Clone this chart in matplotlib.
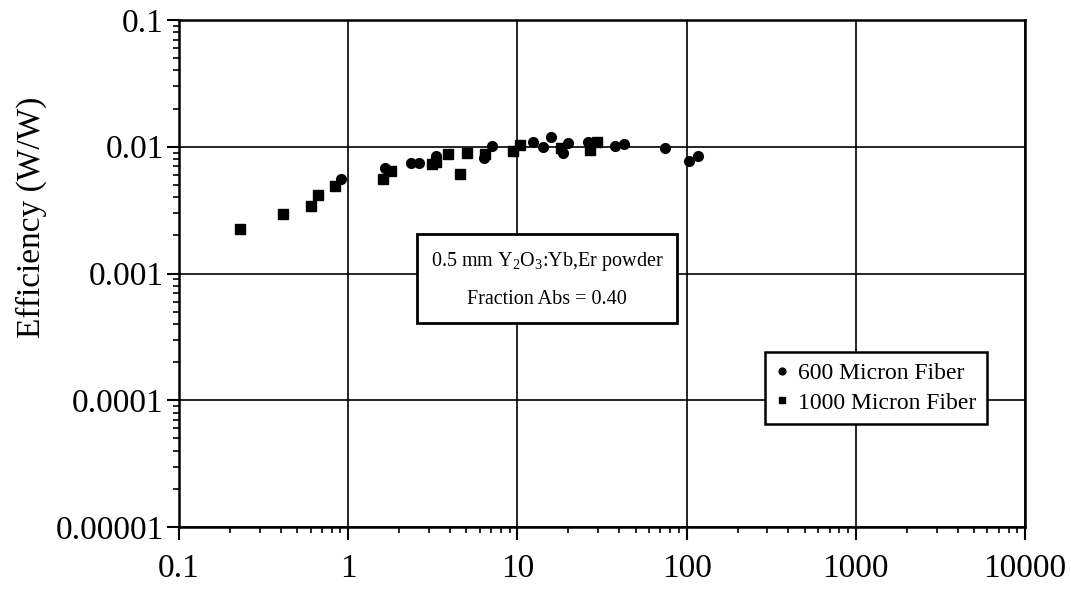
import matplotlib
matplotlib.use('Agg')
import matplotlib.pyplot as plt
from matplotlib.ticker import LogLocator, FixedLocator, FixedFormatter, NullFormatter

plt.rcParams['font.family'] = ['Liberation Serif', 'DejaVu Serif']
plt.rcParams['mathtext.fontset'] = 'custom'
plt.rcParams['mathtext.rm'] = 'Liberation Serif'

# data
x_600 = [0.91, 1.66, 2.36, 2.63, 3.32, 6.38, 7.1, 12.4, 14.1, 15.7, 18.5, 20.0,
         26.0, 38.0, 42.4, 75.0, 104.0, 116.0]
y_600 = [0.00557, 0.0068, 0.00745, 0.00745, 0.00845, 0.00815, 0.0101, 0.0109, 0.0100,
         0.0119, 0.0089, 0.0107, 0.0109, 0.0101, 0.0105, 0.0098, 0.0077, 0.0085]

x_1000 = [0.23, 0.41, 0.60, 0.66, 0.84, 1.61, 1.80, 3.14, 3.3, 3.9, 4.6, 5.06,
          6.47, 9.46, 10.3, 18.2, 27.0, 29.7]
y_1000 = [0.00225, 0.00294, 0.0034, 0.0042, 0.0049, 0.00557, 0.00644, 0.00731, 0.0076,
          0.00877, 0.0061, 0.0089, 0.00877, 0.0092, 0.0103, 0.0098, 0.0094, 0.0109]

x_ticks = [0.1, 1, 10, 100, 1000, 10000]
x_labels = ['0.1', '1', '10', '100', '1000', '10000']
y_ticks = [0.00001, 0.0001, 0.001, 0.01, 0.1]
y_labels = ['0.00001', '0.0001', '0.001', '0.01', '0.1']

fig = plt.figure(figsize=(10.71, 5.93), dpi=100)
ax = fig.add_axes([179/1071, 1 - 527/593, (1025-179)/1071, (527-20)/593])

ax.plot(x_600, y_600, 'o', color='black', ms=7, label='600 Micron Fiber')
ax.plot(x_1000, y_1000, 's', color='black', ms=6.5, label='1000 Micron Fiber')

ax.set_xscale('log')
ax.set_yscale('log')
ax.set_xlim(0.1, 10000)
ax.set_ylim(0.00001, 0.1)

ax.xaxis.set_major_locator(FixedLocator(x_ticks))
ax.xaxis.set_major_formatter(FixedFormatter(x_labels))
ax.yaxis.set_major_locator(FixedLocator(y_ticks))
ax.yaxis.set_major_formatter(FixedFormatter(y_labels))
ax.xaxis.set_minor_locator(LogLocator(base=10, subs=range(2, 10), numticks=20))
ax.yaxis.set_minor_locator(LogLocator(base=10, subs=range(2, 10), numticks=20))
ax.xaxis.set_minor_formatter(NullFormatter())
ax.yaxis.set_minor_formatter(NullFormatter())

ax.tick_params(which='major', direction='out', length=9, width=1.5, labelsize=24, color='black')
ax.tick_params(which='minor', direction='out', length=4.5, width=1.2, color='black')
ax.tick_params(axis='x', which='major', pad=10)
ax.tick_params(axis='y', which='major', pad=2)

ax.grid(which='major', color='black', linestyle='-', linewidth=1.2)
for s in ax.spines.values():
    s.set_linewidth(1.8)

ax.set_ylabel('Efficiency (W/W)', fontsize=24)
ax.yaxis.set_label_coords(-0.156, 0.61)

ax.text(0.435, 0.488, '0.5 mm Y$_2$O$_3$:Yb,Er powder\nFraction Abs = 0.40',
        transform=ax.transAxes, ha='center', va='center', fontsize=14.5,
        linespacing=2.25,
        bbox=dict(boxstyle='square,pad=0.7', facecolor='white', edgecolor='black', linewidth=2))

leg = ax.legend(loc='center right', bbox_to_anchor=(0.955, 0.274), fontsize=17,
                fancybox=False, framealpha=1, edgecolor='black', handlelength=0.5,
                handletextpad=0.45, borderpad=0.45, labelspacing=0.35, markerscale=0.7,
                borderaxespad=0)
leg.get_frame().set_linewidth(1.8)

fig.savefig('out.png', dpi=100)
